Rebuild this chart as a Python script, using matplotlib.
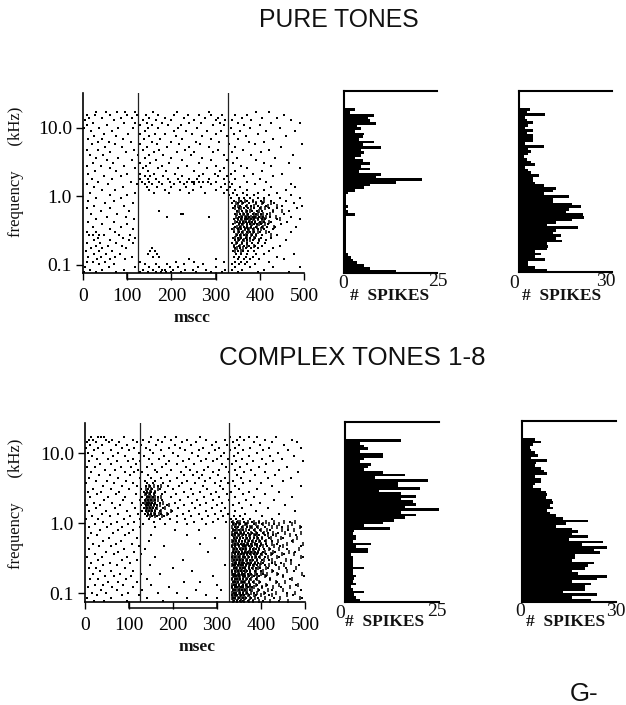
import numpy as np
import matplotlib
matplotlib.use("Agg")
import matplotlib.pyplot as plt

W, H = 626, 705
SANS = "Liberation Sans"
SERIF = "Liberation Serif"

# stimulus rows in kHz, top to bottom
row_freqs = [17.0, 15.5, 14.2, 13.0, 11.9, 10.9, 9.9, 9.1, 8.3, 7.6, 6.9, 6.3, 5.8, 5.3, 4.8, 4.4,
             4.0, 3.7, 3.4, 3.1, 2.8, 2.6, 2.35, 2.15, 1.97, 1.8, 1.65, 1.5, 1.37, 1.25, 1.14, 1.05,
             0.96, 0.87, 0.80, 0.73, 0.67, 0.61, 0.56, 0.51, 0.47, 0.43, 0.39, 0.36, 0.33, 0.30,
             0.27, 0.25, 0.23, 0.21, 0.19, 0.175, 0.16, 0.146, 0.133, 0.122, 0.111, 0.102, 0.093,
             0.085, 0.078]

sound_on, sound_off = 124, 328
bar_start, bar_end = 100, 300
time_ticks = [0, 100, 200, 300, 400, 500]
freq_ticks = [10.0, 1.0, 0.1]
freq_labels = ["10.0", "1.0", "0.1"]

# spike times (msec) for each row of row_freqs
pure_times = [
    [30, 52, 78, 95, 118, 158, 212, 285, 392, 420],
    [8, 28, 60, 100, 122, 142, 170, 205, 238, 262, 290, 315, 345, 372, 455],
    [14, 44, 85, 110, 150, 186, 228, 275, 305, 360, 405, 440],
    [5, 70, 135, 165, 200, 250, 300, 322, 338, 380, 470],
    [22, 92, 118, 145, 178, 240, 268, 310, 350, 425, 490],
    [10, 55, 130, 155, 192, 222, 295, 318, 365, 400],
    [3, 36, 80, 112, 148, 170, 215, 258, 335, 378, 445],
    [18, 65, 140, 205, 232, 280, 312, 355, 415, 480],
    [48, 102, 128, 162, 185, 246, 300, 342, 395],
    [25, 75, 150, 210, 270, 325, 368, 460],
    [12, 42, 90, 138, 175, 225, 290, 350, 430],
    [33, 58, 108, 155, 198, 255, 308, 375, 410],
    [20, 72, 128, 168, 218, 265, 330, 390, 495],
    [50, 88, 145, 190, 240, 285, 345, 448],
    [8, 35, 115, 135, 172, 230, 305, 362, 420],
    [62, 98, 160, 212, 252, 295, 338, 402],
    [15, 45, 125, 150, 180, 245, 318, 380, 475],
    [30, 80, 140, 200, 270, 348, 435],
    [55, 110, 165, 225, 290, 325, 392],
    [22, 68, 130, 152, 195, 262, 340, 410, 465],
    [10, 40, 92, 142, 178, 235, 300, 358, 425],
    [60, 118, 135, 170, 215, 280, 320, 372, 490],
    [28, 75, 148, 188, 250, 310, 345, 405],
    [12, 100, 130, 160, 208, 272, 298, 335, 385, 450],
    [48, 85, 140, 152, 182, 225, 262, 305, 325, 365, 430],
    [20, 66, 128, 146, 165, 192, 214, 240, 258, 285, 318, 345, 400],
    [35, 108, 134, 150, 172, 196, 220, 236, 246, 252, 262, 272, 282, 300, 330, 372, 415],
    [8, 56, 122, 140, 155, 178, 205, 228, 250, 290, 322, 338, 390, 470],
    [25, 90, 145, 168, 200, 232, 268, 312, 332, 355, 425, 480],
    [44, 72, 150, 185, 220, 248, 300, 325, 345, 370, 410, 460],
    [15, 118, 160, 195, 240, 275, 318, 340, 362, 395, 440],
    [60, 100, 330, 348, 372, 388, 420, 470],
    [30, 85, 335, 352, 365, 378, 395, 410, 445, 490],
    [12, 70, 342, 358, 370, 385, 402, 425, 460],
    [50, 112, 338, 350, 362, 376, 392, 408, 432, 478],
    [25, 92, 345, 356, 368, 380, 396, 415, 450, 495],
    [8, 62, 340, 352, 364, 374, 386, 400, 420, 440, 485],
    [40, 105, 172, 348, 360, 372, 382, 394, 406, 430, 465],
    [18, 78, 222, 226, 345, 355, 365, 374, 384, 392, 402, 416, 455],
    [55, 98, 190, 285, 352, 360, 368, 376, 384, 390, 398, 408, 422, 470],
    [30, 116, 342, 350, 358, 366, 372, 380, 388, 396, 404, 412, 440, 490],
    [12, 70, 348, 356, 362, 368, 376, 382, 390, 400, 410, 425, 462],
    [42, 100, 340, 352, 360, 370, 378, 386, 394, 402, 418, 448],
    [22, 85, 345, 355, 364, 372, 380, 392, 404, 416, 435, 482],
    [60, 112, 338, 350, 358, 366, 374, 384, 396, 410, 430],
    [8, 30, 72, 342, 352, 360, 370, 378, 388, 400, 420, 470],
    [14, 22, 36, 48, 82, 106, 348, 356, 364, 372, 382, 392, 406, 440],
    [34, 90, 118, 340, 350, 358, 368, 378, 390, 402, 425],
    [25, 62, 104, 344, 354, 362, 372, 384, 398, 415, 460],
    [10, 38, 74, 112, 338, 348, 360, 370, 382, 396, 412],
    [30, 56, 88, 342, 352, 364, 376, 390, 405, 445],
    [18, 44, 98, 156, 344, 356, 368, 380, 395, 430],
    [6, 36, 66, 152, 162, 340, 350, 362, 374, 388, 420],
    [26, 52, 84, 148, 168, 346, 358, 372, 392, 410, 478],
    [12, 40, 72, 110, 158, 172, 342, 354, 368, 384, 440],
    [32, 60, 95, 240, 300, 350, 364, 378, 398, 455],
    [8, 22, 50, 128, 210, 252, 318, 344, 358, 372, 420],
    [36, 70, 140, 165, 190, 228, 272, 336, 352, 366, 390],
    [4, 58, 118, 150, 172, 196, 215, 260, 300, 345, 378, 430, 490],
    [16, 44, 92, 136, 158, 178, 186, 204, 230, 248, 278, 322, 338, 360, 410],
    [2, 30, 75, 128, 146, 165, 176, 188, 200, 222, 256, 290, 315, 350, 395, 465],
]

complex_times = [
    [14, 30, 36, 44, 88, 150, 182, 206, 262, 330, 352, 372, 392, 435],
    [8, 18, 48, 62, 108, 132, 165, 195, 232, 276, 318, 345, 362, 410, 470],
    [4, 26, 54, 78, 118, 145, 176, 220, 252, 298, 336, 385, 425, 482],
    [12, 38, 70, 96, 128, 162, 205, 240, 288, 322, 350, 398, 452],
    [2, 30, 85, 112, 138, 190, 215, 268, 305, 342, 375, 418, 490],
    [20, 58, 100, 148, 172, 228, 260, 296, 330, 360, 405, 462],
    [6, 42, 76, 122, 155, 200, 244, 282, 316, 348, 390, 438],
    [16, 64, 92, 134, 180, 212, 256, 308, 338, 372, 420, 475],
    [28, 52, 110, 146, 168, 236, 274, 300, 326, 356, 402, 448],
    [10, 72, 98, 126, 192, 222, 264, 292, 344, 382, 428, 495],
    [34, 60, 116, 152, 184, 210, 248, 312, 334, 368, 412],
    [4, 22, 82, 104, 140, 174, 230, 280, 320, 352, 396, 458],
    [46, 68, 120, 158, 196, 238, 270, 304, 340, 378, 440],
    [14, 90, 112, 130, 164, 218, 254, 290, 328, 362, 408, 484],
    [32, 56, 102, 144, 186, 226, 246, 266, 302, 346, 386, 432],
    [8, 74, 124, 150, 172, 208, 258, 284, 318, 354, 416, 468],
    [24, 50, 94, 136, 160, 194, 232, 272, 310, 336, 376, 450],
    [2, 66, 108, 142, 154, 178, 220, 250, 296, 324, 360, 400],
    [40, 84, 118, 138, 148, 166, 188, 214, 268, 306, 342, 424, 490],
    [18, 58, 100, 128, 144, 152, 170, 200, 242, 278, 314, 350, 392],
    [6, 36, 78, 134, 142, 150, 160, 182, 224, 262, 298, 332, 372, 440],
    [28, 70, 116, 138, 148, 156, 174, 206, 246, 286, 322, 358, 410],
    [12, 52, 92, 130, 140, 146, 154, 166, 196, 234, 270, 304, 340, 384, 470],
    [44, 86, 126, 136, 144, 150, 158, 176, 216, 254, 292, 328, 366, 430],
    [20, 62, 106, 132, 140, 146, 152, 160, 170, 204, 244, 276, 312, 350, 398],
    [4, 34, 80, 128, 138, 144, 150, 156, 164, 186, 226, 262, 300, 336, 378, 455],
    [26, 68, 114, 134, 142, 148, 154, 162, 178, 212, 250, 288, 318, 356, 416],
    [10, 48, 96, 130, 138, 146, 152, 158, 170, 198, 236, 274, 308, 342, 388, 478],
    [38, 74, 120, 136, 144, 150, 160, 172, 188, 222, 258, 296, 326, 364, 440],
    [16, 56, 102, 140, 152, 164, 180, 208, 240, 280, 314, 338, 352, 402],
    [2, 30, 88, 126, 146, 170, 194, 228, 266, 302, 332, 344, 358, 376, 425],
    [42, 72, 112, 156, 210, 248, 290, 320, 334, 346, 362, 380, 396, 465],
    [22, 60, 98, 132, 182, 232, 276, 336, 344, 352, 366, 384, 402, 430],
    [8, 50, 84, 124, 160, 340, 348, 356, 368, 378, 392, 410, 448, 490],
    [34, 76, 110, 205, 258, 336, 342, 350, 360, 372, 384, 398, 420, 462],
    [14, 64, 100, 340, 346, 354, 362, 370, 380, 390, 404, 416, 438],
    [28, 92, 150, 232, 334, 342, 350, 358, 366, 376, 386, 396, 410, 428, 480],
    [6, 54, 118, 296, 338, 346, 352, 360, 368, 374, 384, 394, 402, 418, 450],
    [40, 82, 146, 336, 344, 350, 356, 364, 372, 380, 388, 398, 408, 424, 470],
    [18, 70, 106, 262, 340, 348, 354, 362, 370, 378, 386, 392, 400, 412, 436],
    [32, 58, 122, 180, 334, 342, 350, 358, 364, 372, 380, 390, 398, 414, 444, 492],
    [10, 88, 136, 338, 346, 352, 360, 366, 374, 382, 388, 396, 406, 420, 458],
    [48, 76, 112, 280, 336, 344, 350, 356, 364, 370, 378, 386, 394, 404, 432, 478],
    [22, 66, 128, 340, 348, 354, 362, 368, 376, 384, 390, 400, 412, 426, 452],
    [4, 38, 96, 160, 334, 342, 350, 358, 364, 372, 380, 388, 396, 408, 440, 495],
    [30, 84, 118, 222, 338, 346, 352, 360, 368, 374, 382, 390, 402, 418, 468],
    [14, 56, 102, 340, 344, 350, 356, 362, 370, 378, 386, 394, 404, 424, 446],
    [42, 72, 148, 318, 336, 342, 348, 354, 360, 366, 374, 382, 392, 410, 434, 486],
    [8, 26, 90, 200, 338, 344, 352, 358, 364, 372, 380, 388, 398, 416, 456],
    [34, 60, 110, 244, 334, 340, 348, 354, 362, 368, 376, 386, 400, 428, 474],
    [18, 80, 128, 170, 336, 342, 350, 356, 362, 370, 378, 390, 404, 438],
    [46, 66, 104, 290, 338, 344, 350, 358, 364, 372, 384, 396, 412, 450, 498],
    [12, 30, 94, 140, 334, 340, 346, 352, 360, 368, 376, 388, 420, 466],
    [52, 76, 118, 226, 262, 336, 342, 348, 356, 362, 372, 382, 398, 436],
    [22, 40, 86, 150, 300, 338, 344, 350, 358, 366, 374, 392, 414, 480],
    [6, 62, 108, 190, 334, 340, 346, 354, 360, 370, 380, 402, 446],
    [36, 72, 130, 252, 310, 336, 342, 350, 356, 364, 376, 396, 426, 490],
    [16, 48, 98, 166, 210, 338, 344, 352, 358, 368, 384, 408, 460],
    [28, 84, 122, 276, 334, 340, 346, 354, 362, 372, 388, 418, 472],
    [4, 58, 140, 232, 300, 336, 342, 350, 358, 366, 378, 394, 430, 494],
    [20, 44, 96, 178, 338, 346, 352, 360, 370, 382, 404, 442],
]

# row index -> times of the darker streaks in the dense parts of each raster
pure_burst = {
    33: [352, 366, 384, 410], 34: [346, 360, 392, 405, 425], 35: [350, 372, 388, 418, 440],
    36: [344, 358, 380, 402, 412], 37: [354, 368, 378, 398, 430, 450],
    38: [348, 362, 371, 386, 396, 408, 424], 39: [346, 358, 366, 374, 381, 392, 402, 414, 436],
    40: [350, 360, 368, 376, 384, 395, 410, 446], 41: [344, 356, 364, 378, 390, 404, 420],
    42: [352, 362, 372, 382, 398, 412], 43: [348, 358, 370, 380, 394, 408, 432],
    44: [342, 354, 366, 376, 388, 402], 45: [350, 362, 374, 384, 396, 414],
    46: [346, 358, 368, 380, 392, 426], 47: [344, 356, 370, 386], 48: [350, 364, 378, 398],
    49: [346, 360, 372], 50: [342, 356, 370, 388], 51: [348, 362], 52: [344, 358],
}
complex_burst = {
    18: [146, 156, 172], 19: [138, 150, 166], 20: [140, 148, 160], 21: [136, 146, 156],
    22: [142, 150, 158, 172], 23: [138, 146, 154, 166], 24: [136, 144, 150, 160, 178],
    25: [140, 148, 156, 170, 190], 26: [138, 146, 152, 164, 182], 27: [142, 150, 158, 172, 196],
    28: [144, 156, 168, 186], 29: [148, 160, 176],
    31: [336, 347, 352, 371, 383, 396, 412, 430, 452, 478],
    32: [339, 350, 364, 369, 388, 405, 418, 441, 470],
    33: [334, 343, 358, 374, 380, 394, 425, 436, 462, 488],
    34: [337, 345, 355, 367, 386, 400, 413, 448, 476],
    35: [333, 341, 352, 361, 377, 389, 407, 428, 455, 492],
    36: [336, 348, 356, 372, 384, 392, 416, 434, 466],
    37: [338, 344, 353, 366, 375, 390, 403, 422, 445, 482],
    38: [334, 342, 351, 363, 370, 382, 396, 411, 438, 472],
    39: [337, 346, 356, 368, 379, 387, 401, 426, 458, 496],
    40: [333, 341, 349, 360, 366, 377, 391, 405, 430, 450],
    41: [336, 344, 354, 363, 374, 383, 395, 419, 440, 486],
    42: [339, 347, 356, 365, 372, 381, 393, 409, 428, 464],
    43: [334, 342, 351, 359, 369, 378, 389, 402, 422, 447, 475],
    44: [337, 345, 353, 362, 371, 386, 397, 415, 436, 490],
    45: [333, 340, 349, 357, 366, 379, 392, 407, 424, 456],
    46: [336, 343, 352, 360, 368, 376, 387, 400, 431, 468],
    47: [334, 341, 349, 358, 365, 373, 384, 398, 418, 452],
    48: [338, 346, 354, 363, 372, 381, 393, 411, 442, 480],
    49: [335, 343, 350, 357, 367, 375, 388, 404, 426, 460],
    50: [333, 340, 348, 356, 364, 374, 386, 399, 414, 437, 494],
    51: [337, 345, 353, 361, 370, 379, 392, 408, 449],
    52: [334, 342, 350, 359, 366, 377, 390, 421, 470],
    53: [338, 346, 355, 363, 372, 383, 396, 433, 455],
    54: [335, 343, 351, 358, 368, 376, 389, 412, 441, 484],
    55: [333, 341, 349, 356, 365, 374, 385, 403, 428, 465],
    56: [337, 345, 352, 361, 369, 380, 394, 417, 451],
    57: [334, 342, 350, 358, 366, 378, 391, 406, 435, 477],
    58: [336, 344, 353, 360, 371, 384, 399, 425, 458],
    59: [333, 340, 348, 355, 364, 375, 387, 410, 443, 489],
    60: [337, 346, 354, 362, 373, 382, 395, 420, 462],
}

# spike counts per row, top to bottom
pure_counts_a = [3, 1.5, 8, 6.5, 7, 8.5, 3.5, 4.5, 3, 5.5, 5, 4, 8, 5, 10, 4.5, 5.5, 4.5, 3, 5, 7, 4.5,
                 7, 4, 10, 8.5, 21, 14, 7, 5.5, 3, 1, .5, .5, .5, .5, 1, .5, 1, 3, .5, .5, .5, .5, .5,
                 .5, .5, .5, .5, .5, .5, .5, .5, .5, 1, 2, 2.5, 3.5, 5.5, 7, 14]
pure_counts_b = [3.5, 2.5, 8.5, 2, 2.5, 4.5, 3, 2, 4.5, 2.5, 4.5, 4.5, 4.5, 2, 8, 3, 4, 3, 1.5, 2.5, 4,
                 5, 2, 3, 4, 6.5, 4.5, 4.5, 5, 8, 12, 11, 8, 16, 11, 11, 17, 20, 16, 15, 20.5, 21, 17,
                 12, 9, 19, 12, 11, 13.5, 12, 14, 9, 9.5, 9, 5, 7, 5, 8.5, 3, 3, 5, 9]
complex_counts_a = [15, 4, 5, 6, 4, 10, 10, 5, 4, 7, 6, 5, 10, 16, 8, 22, 14, 14, 20, 9, 15, 19, 15, 18,
                    19, 16, 25, 15, 19, 16, 13, 10, 5, 12, 2.5, 2, 3, 3, 2, 7, 3, 6, 6, 1.5, 2, 2, 2, 2,
                    5, 2, 2, 3, 2.5, 2, 3, 1.5, 2, 5, 2.5, 3, 4]
complex_counts_b = [4, 6, 3.5, 2.5, 3, 4, 5, 3, 8, 4.5, 4, 6, 7, 8, 4, 6, 6, 4, 3.5, 6, 7.5, 8, 7.5, 9.5,
                    10, 9, 10, 8, 9, 11, 13, 21, 14, 11, 16, 18, 16, 21, 15, 26, 19, 27, 23, 25, 17, 17,
                    16, 23, 21, 20, 16, 18, 27, 24, 16, 22, 20, 20, 13, 24, 16, 22]


def px_axes(fig, left, top, right, bottom):
    return fig.add_axes([left / W, 1 - bottom / H, (right - left) / W, (bottom - top) / H])


def px_text(fig, x, y, s, **kw):
    kw.setdefault("ha", "center")
    kw.setdefault("va", "center")
    kw.setdefault("family", SERIF)
    fig.text(x / W, 1 - y / H, s, color="#111111", **kw)


def draw_raster(ax, times, burst, ylim):
    for freq, row in zip(row_freqs, times):
        ax.plot(row, [freq] * len(row), ls="", marker="s", ms=1.5, mew=0, color="k")
    for idx, row in burst.items():
        ax.plot(row, [row_freqs[idx]] * len(row), ls="", marker="|", ms=3.2, mew=1.1, color="k")
    ax.axvline(sound_on, color="#222222", lw=0.9)
    ax.axvline(sound_off, color="#222222", lw=0.9)
    ax.set_xlim(0, 500)
    ax.set_yscale("log")
    ax.set_ylim(*ylim)
    ax.spines[["top", "right"]].set_visible(False)
    ax.spines[["left", "bottom"]].set_linewidth(1.2)
    ax.set_xticks(time_ticks)
    ax.set_yticks(freq_ticks)
    ax.set_yticklabels(freq_labels)
    ax.minorticks_off()
    ax.tick_params(axis="both", length=5, width=1, labelsize=14, pad=3)
    ax.tick_params(axis="x", pad=6)
    for lab in ax.get_xticklabels() + ax.get_yticklabels():
        lab.set_family(SERIF)
    # bar marking the tone
    ax.plot([bar_start, bar_start, bar_end, bar_end], [0, -0.032, -0.032, 0], color="k", lw=1.1,
            clip_on=False, transform=ax.get_xaxis_transform())


def draw_hist(ax, counts, xmax):
    rows = np.arange(len(counts))
    ax.barh(rows, counts, height=1.0, color="k", lw=0)
    ax.set_xlim(0, xmax)
    ax.set_ylim(len(counts) - 0.2, -7)
    ax.spines["right"].set_visible(False)
    ax.spines[["left", "top", "bottom"]].set_linewidth(1.5)
    ax.set_xticks([])
    ax.set_yticks([])


fig = plt.figure(figsize=(W / 100, H / 100), dpi=100)

draw_raster(px_axes(fig, 83, 93, 304, 273), pure_times, pure_burst, (0.0764, 32.4))
draw_raster(px_axes(fig, 85, 423, 305, 602), complex_times, complex_burst, (0.0751, 26.8))

draw_hist(px_axes(fig, 344, 91, 437, 273), pure_counts_a, 25)
draw_hist(px_axes(fig, 519, 91, 612, 272), pure_counts_b, 30)
draw_hist(px_axes(fig, 345, 422, 439, 602), complex_counts_a, 25)
draw_hist(px_axes(fig, 522, 421, 616, 602), complex_counts_b, 30)

px_text(fig, 339, 20, "PURE TONES", family=SANS, fontsize=17.8)
px_text(fig, 352, 358, "COMPLEX TONES 1-8", family=SANS, fontsize=18.6)
px_text(fig, 584, 694, "G-", family=SANS, fontsize=18.6)

px_text(fig, 16, 172, "frequency      (kHz)", rotation=90, fontsize=12)
px_text(fig, 16, 504, "frequency      (kHz)", rotation=90, fontsize=12)
px_text(fig, 192, 318, "mscc", fontsize=12.5, fontweight="bold")
px_text(fig, 197, 647, "msec", fontsize=12.5, fontweight="bold")

for x0, x1, xs, lab, y0, y1, ys in [
    (343, 438, 390, "25", 284, 282, 296),
    (514, 606, 562, "30", 283, 281, 296),
    (340, 437, 385, "25", 614, 612, 622),
    (520, 616, 566, "30", 611, 611, 622),
]:
    px_text(fig, x0, y0, "0", fontsize=14)
    px_text(fig, x1, y1, lab, fontsize=14)
    px_text(fig, xs, ys, "#  SPIKES", fontsize=12.5, fontweight="bold")

fig.savefig("out.png", dpi=100)
